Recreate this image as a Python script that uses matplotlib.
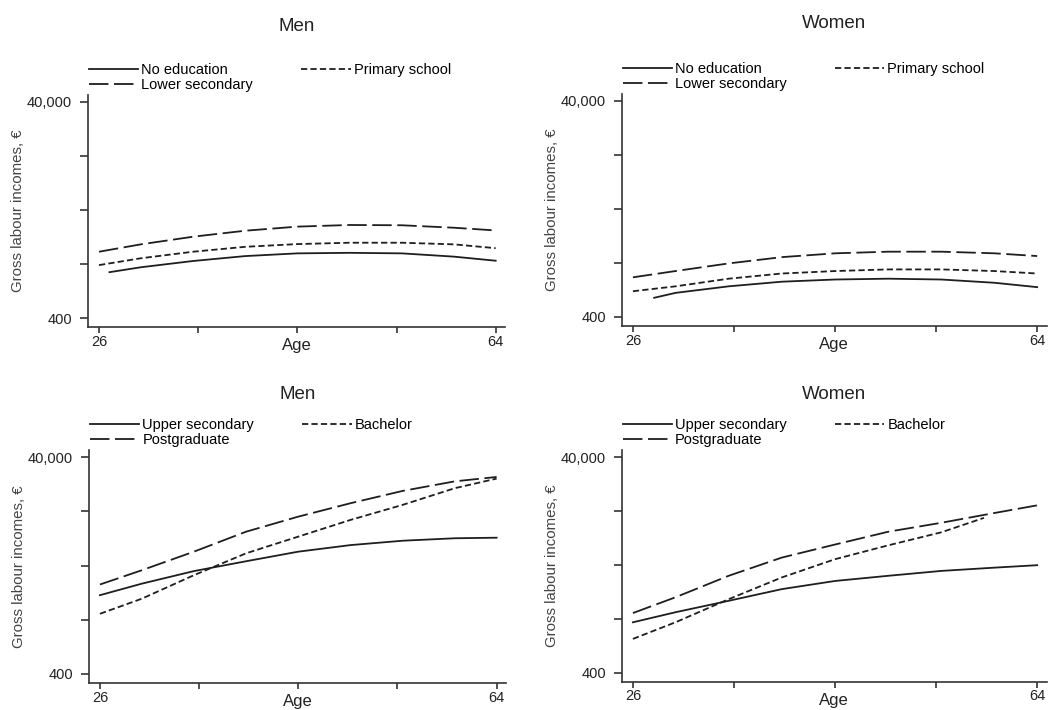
import matplotlib
matplotlib.use("Agg")
import matplotlib.pyplot as plt
from matplotlib.ticker import FixedLocator

plt.rcParams["font.family"] = ["Liberation Sans", "DejaVu Sans"]
plt.rcParams["lines.scale_dashes"] = False

ages = [26, 30, 35, 40, 45, 50, 55, 60, 64]

# top row: low education levels
men_no_edu_ages = [27, 30, 35, 40, 45, 50, 55, 60, 64]
men_no_edu = [8800, 9700, 10850, 11750, 12250, 12350, 12250, 11650, 10900]
men_primary = [10100, 11350, 12550, 13450, 13950, 14200, 14200, 13900, 13200]
men_lower_sec = [12550, 13900, 15300, 16400, 17150, 17450, 17400, 16950, 16450]

women_no_edu_ages = [28, 30, 35, 40, 45, 50, 55, 60, 64]
women_no_edu = [3900, 4800, 6000, 6850, 7250, 7400, 7250, 6650, 5850]
women_primary = [5100, 6000, 7400, 8350, 8800, 9100, 9100, 8800, 8350]
women_lower_sec = [7650, 8800, 10200, 11350, 12050, 12350, 12350, 12050, 11550]

# bottom row: high education levels
men_upper_sec = [14800, 16900, 19200, 21000, 22750, 23950, 24750, 25200, 25300]
men_bachelor = [11400, 14150, 18450, 22450, 25500, 28550, 31300, 34350, 36100]
men_postgrad = [16750, 19350, 22750, 26400, 29150, 31600, 33850, 35600, 36400]

women_upper_sec = [9650, 11500, 13600, 15750, 17250, 18200, 19100, 19700, 20150]
women_bachelor_ages = [26, 30, 35, 40, 45, 50, 55, 59]
women_bachelor = [6600, 9650, 13900, 17900, 21250, 23800, 26200, 28850]
women_postgrad = [11350, 14250, 18200, 21550, 23950, 26300, 27950, 29750, 31150]

low_labels = ["No education", "Primary school", "Lower secondary"]
high_labels = ["Upper secondary", "Bachelor", "Postgraduate"]

y_ticks = [400, 10300, 20200, 30100, 40000]
y_ticklabels = ["400", "", "", "", "40,000"]
x_ticks = [26, 35.5, 45, 54.5, 64]
x_ticklabels = ["26", "", "", "", "64"]

LINE = "#1e1e1e"
SHORT = (0, (4.5, 2.3))
LONG = (0, (14, 4))


def style_axes(ax, title, title_pad):
    ax.set_xlim(24.95, 64.9)
    ax.set_ylim(-1250, 41300)
    ax.spines["top"].set_visible(False)
    ax.spines["right"].set_visible(False)
    for s in ("left", "bottom"):
        ax.spines[s].set_linewidth(1.2)
        ax.spines[s].set_color("#333333")
    ax.yaxis.set_major_locator(FixedLocator(y_ticks))
    ax.set_yticklabels(y_ticklabels)
    ax.xaxis.set_major_locator(FixedLocator(x_ticks))
    ax.set_xticklabels(x_ticklabels)
    ax.tick_params(axis="both", width=1.2, color="#333333",
                   labelsize=10.5, labelcolor="#222222")
    ax.tick_params(axis="x", length=4.5, pad=1)
    ax.tick_params(axis="y", length=6, pad=5.5)
    ax.set_xlabel("Age", fontsize=12, labelpad=-7.5, color="#222222")
    ax.set_ylabel("Gross labour incomes, \u20ac", fontsize=10.8, color="#444444",
                  labelpad=1.5)
    ax.set_title(title, fontsize=13.5, pad=title_pad, color="#222222")


def add_legend(ax, handles, labels):
    # reorder so the legend reads row by row: a b / c
    order = [0, 2, 1]
    ax.legend([handles[i] for i in order], [labels[i] for i in order],
              loc="lower left", bbox_to_anchor=(-0.005, 1.0), ncol=2,
              frameon=False, fontsize=10.5, handlelength=3.4,
              handletextpad=0.2, columnspacing=3.3, labelspacing=0.05,
              borderpad=0.1, borderaxespad=0.1)


fig = plt.figure(figsize=(10.52, 7.10), dpi=100)
axes_pos = [
    (0.0837, 0.5394, 0.3964, 0.327),
    (0.591, 0.541, 0.404, 0.327),
    (0.0846, 0.038, 0.3964, 0.328),
    (0.591, 0.040, 0.404, 0.326),
]
ax_tl, ax_tr, ax_bl, ax_br = [fig.add_axes(p) for p in axes_pos]

panels = [
    (ax_tl, "Men", 46, low_labels,
     [(men_no_edu_ages, men_no_edu, "-"), (ages, men_primary, SHORT),
      (ages, men_lower_sec, LONG)]),
    (ax_tr, "Women", 47, low_labels,
     [(women_no_edu_ages, women_no_edu, "-"), (ages, women_primary, SHORT),
      (ages, women_lower_sec, LONG)]),
    (ax_bl, "Men", 37, high_labels,
     [(ages, men_upper_sec, "-"), (ages, men_bachelor, SHORT),
      (ages, men_postgrad, LONG)]),
    (ax_br, "Women", 37, high_labels,
     [(ages, women_upper_sec, "-"), (women_bachelor_ages, women_bachelor, SHORT),
      (ages, women_postgrad, LONG)]),
]

for ax, title, pad, labels, series in panels:
    handles = []
    for x, y, ls in series:
        (h,) = ax.plot(x, y, color=LINE, linestyle=ls, linewidth=1.3)
        handles.append(h)
    style_axes(ax, title, pad)
    add_legend(ax, handles, labels)

fig.savefig("out.png", dpi=100, facecolor="white")
